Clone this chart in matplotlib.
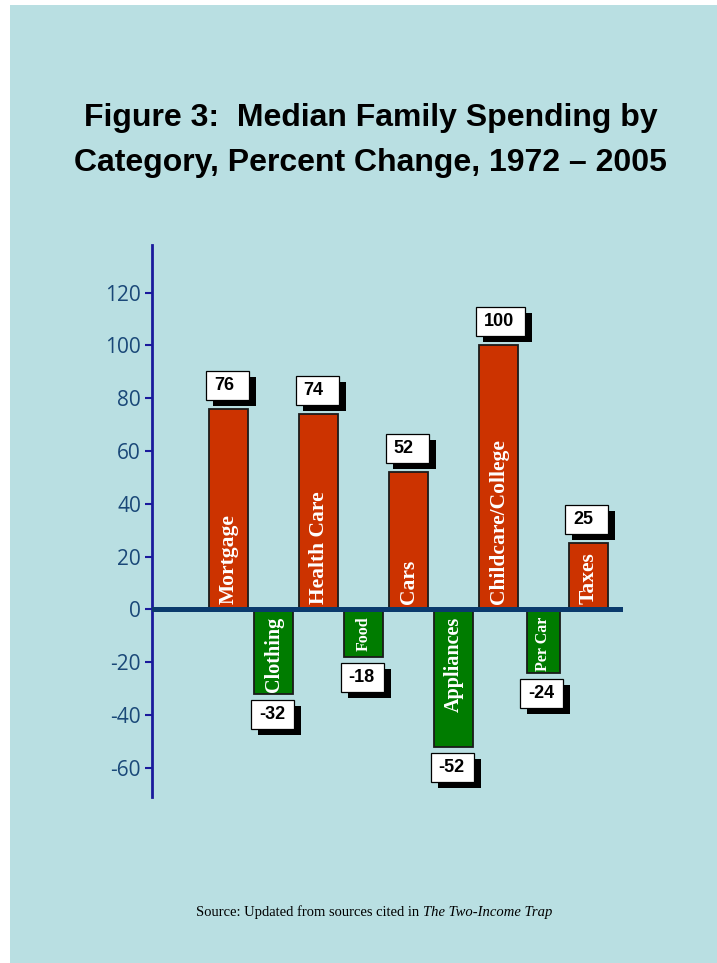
import matplotlib.pyplot as plt
from matplotlib.patches import Rectangle
from matplotlib import transforms

# data
categories = ['Mortgage', 'Clothing', 'Health Care', 'Food', 'Cars',
              'Appliances', 'Childcare/College', 'Per Car', 'Taxes']
pct_change = [76, -32, 74, -18, 52, -52, 100, -24, 25]
y_ticks = [-60, -40, -20, 0, 20, 40, 60, 80, 100, 120]

BG = '#b9dfe2'
RED = '#cc3300'
GREEN = '#007c00'
NAVY = '#1a1a9c'
TICK_TXT = '#1a4878'
W, H = 717, 963

fig = plt.figure(figsize=(W / 100, H / 100), dpi=100, facecolor='white')
fig.add_artist(Rectangle((10 / W, 0), 1, 1 - 5 / H, transform=fig.transFigure,
                         fc=BG, ec='none', zorder=-10))

ax = fig.add_axes([152 / W, 1 - 797 / H, (623 - 152) / W, (797 - 245) / H])
ax.set_facecolor('none')
ax.set_xlim(-1.71, 8.77)
ax.set_ylim(-71, 138)

for s in ['top', 'right', 'bottom']:
    ax.spines[s].set_visible(False)
ax.spines['left'].set_color(NAVY)
ax.spines['left'].set_linewidth(2)
ax.set_xticks([])
ax.set_yticks(y_ticks, labels=[str(t) for t in y_ticks], family='Open Sans')
ax.tick_params(axis='y', direction='out', length=5, width=1.5, color=NAVY,
               labelcolor=TICK_TXT, labelsize=15, pad=3)

x = list(range(len(categories)))
widths = [0.735 if c == 'Per Car' else 0.87 for c in categories]
colors = [RED if v > 0 else GREEN for v in pct_change]
ax.bar(x, pct_change, width=widths, color=colors, edgecolor='#1a1a1a',
       linewidth=1.3, zorder=2)
ax.axhline(0, color='#0a3a6c', lw=3.6, zorder=3)

# category names inside the bars
small = {'Food', 'Per Car'}
for xi, cat, v in zip(x, categories, pct_change):
    if cat in small:
        fs = 11.5
    else:
        fs = 15.5 if v > 0 else 14.5
    off = 5 if v > 0 else -7
    ax.annotate(cat, (xi, 0), xytext=(0, off), textcoords='offset pixels',
                rotation=90, ha='center', va='bottom' if v > 0 else 'top',
                color='white', fontsize=fs, fontweight='bold',
                family='Liberation Serif', zorder=4)

# value boxes with drop shadow
box_h = 29
for xi, v in zip(x, pct_change):
    label = str(v)
    w = 43 + 6 * (len(label.lstrip('-')) - 2)
    left = -23
    bottom = 9 if v > 0 else -(6 + box_h)
    trans = fig.dpi_scale_trans + transforms.ScaledTranslation(xi, v, ax.transData)
    ax.add_patch(Rectangle(((left + 7) / 100, (bottom - 6) / 100), w / 100, box_h / 100,
                           transform=trans, fc='black', ec='none', clip_on=False, zorder=5))
    ax.add_patch(Rectangle((left / 100, bottom / 100), w / 100, box_h / 100,
                           transform=trans, fc='white', ec='black', lw=0.9,
                           clip_on=False, zorder=6))
    ax.annotate(label, (xi, v), xytext=(left + 8, bottom + box_h / 2),
                textcoords='offset pixels', ha='left', va='center',
                fontsize=13, fontweight='bold', family='Liberation Sans', zorder=7)

# title
fig.text(371 / W, 1 - 126 / H, 'Figure 3:  Median Family Spending by',
         ha='center', va='baseline', fontsize=23, fontweight='bold',
         family='Liberation Sans')
fig.text(370 / W, 1 - 171 / H, 'Category, Percent Change, 1972 \u2013 2005',
         ha='center', va='baseline', fontsize=23, fontweight='bold',
         family='Liberation Sans')

# source line
fig.text(423 / W, 1 - 916 / H, 'Source: Updated from sources cited in ',
         ha='right', va='baseline', fontsize=10.5, family='Liberation Serif')
fig.text(423 / W, 1 - 916 / H, 'The Two-Income Trap', ha='left', va='baseline',
         fontsize=10.5, style='italic', family='Liberation Serif')

fig.savefig('out.png', dpi=100, facecolor=fig.get_facecolor())
